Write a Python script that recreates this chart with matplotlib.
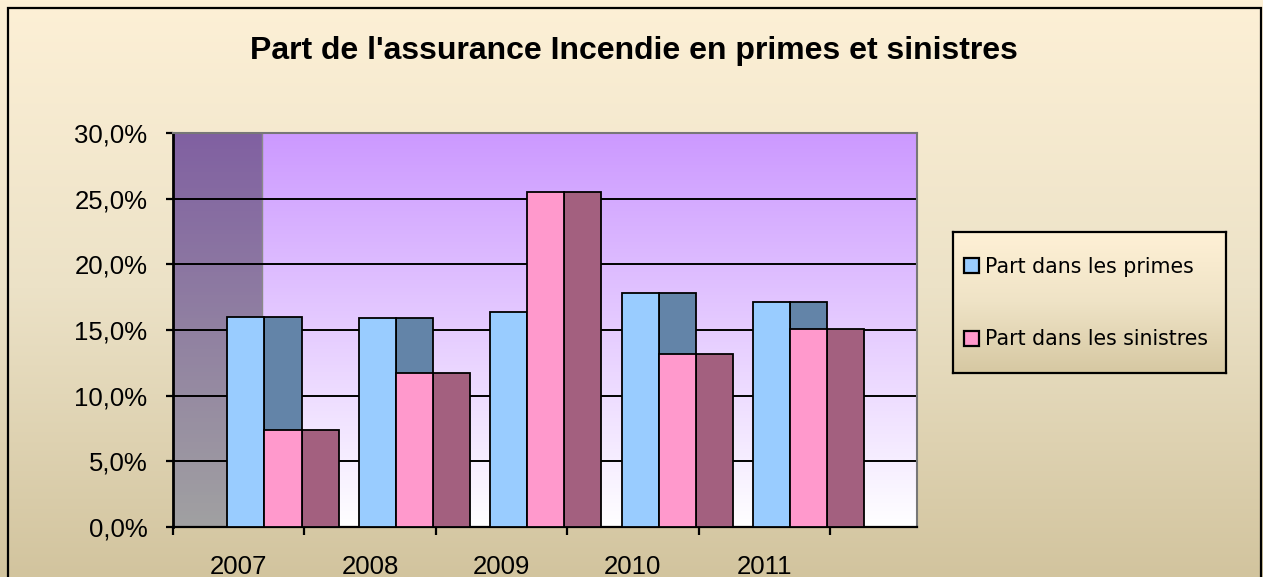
import numpy as np
import matplotlib
matplotlib.use("Agg")
import matplotlib.pyplot as plt
from matplotlib.patches import Rectangle
from matplotlib.colors import LinearSegmentedColormap

# ---- data ----
years = ["2007", "2008", "2009", "2010", "2011"]
part_primes = [16.0, 15.9, 16.35, 17.8, 17.1]
part_sinistres = [7.35, 11.7, 25.5, 13.2, 15.1]
series_labels = ["Part dans les primes", "Part dans les sinistres"]
title = "Part de l'assurance Incendie en primes et sinistres"
yticks = [0, 5, 10, 15, 20, 25, 30]
ytick_labels = ["0,0%", "5,0%", "10,0%", "15,0%", "20,0%", "25,0%", "30,0%"]

W, H = 1263, 577
fig = plt.figure(figsize=(W / 100, H / 100), dpi=100)
plt.rcParams['font.family'] = ['Liberation Sans', 'DejaVu Sans']

def px_axes(x0, y0, x1, y1, **kw):
    return fig.add_axes([x0 / W, 1 - y1 / H, (x1 - x0) / W, (y1 - y0) / H], **kw)

# ---- figure background gradient ----
bg = fig.add_axes([0, 0, 1, 1], zorder=-10)
bg_cmap = LinearSegmentedColormap.from_list("bg", ["#FDF0D6", "#ECE2C7", "#D2C49E"])
grad = np.linspace(0, 1, 256).reshape(-1, 1)
bg.imshow(grad, aspect='auto', cmap=bg_cmap, extent=[0, 1, 0, 1], origin='upper')
bg.set_xlim(0, 1); bg.set_ylim(0, 1)
bg.axis('off')
bg.add_patch(Rectangle((8 / W, -0.02), (1261 - 8) / W, 1.02 - 8 / H,
                       fill=False, edgecolor='black', linewidth=1.6,
                       transform=bg.transAxes))

# ---- main plot ----
cat_px = 131.4
x_left, x_right, y_top, y_bot = 173, 917, 133, 527
ax = px_axes(x_left, y_top, x_right, y_bot)
xmax = (x_right - x_left) / cat_px
ax.set_xlim(0, xmax)
ax.set_ylim(0, 30)

wall_cmap = LinearSegmentedColormap.from_list("wall", ["#CC99FF", "#FFFFFF"])
ax.imshow(grad, aspect='auto', cmap=wall_cmap, extent=[0, xmax, 0, 30],
          origin='upper', zorder=0)
side_w = (262 - x_left) / cat_px
ax.add_patch(Rectangle((0, 0), side_w, 30, facecolor='black', alpha=0.37,
                       edgecolor='none', zorder=0.5))
ax.axvline(side_w, color='#8a8a8a', lw=1.0, zorder=0.6)

for yv in yticks[1:-1]:
    ax.axhline(yv, color='black', lw=1.4, zorder=1)

x = np.arange(len(years))
off = 0.414
w = 0.282
edge = dict(edgecolor='black', linewidth=1.3, align='edge')
b_side = ax.bar(x + off + w, part_primes, w, color='#6384A8', zorder=2, **edge)
b_front = ax.bar(x + off, part_primes, w, color='#99CCFF', zorder=3, **edge)
p_side = ax.bar(x + off + 2 * w, part_sinistres, w, color='#A3607F', zorder=4, **edge)
p_front = ax.bar(x + off + w, part_sinistres, w, color='#FF99CC', zorder=5, **edge)

ax.set_yticks(yticks)
ax.set_yticklabels(ytick_labels)
ax.set_xticks(np.arange(len(years) + 1))
ax.set_xticklabels([])
ax.set_xticks(x + 0.5, minor=True)
ax.set_xticklabels(years, minor=True)
ax.tick_params(axis='y', length=5, width=1.6, pad=13.5, labelsize=18.5)
ax.tick_params(axis='x', which='major', length=5.5, width=1.6, direction='out')
ax.tick_params(axis='x', which='minor', length=0, pad=20.5, labelsize=18.5)
ax.spines['left'].set_linewidth(2.0)
ax.spines['left'].set_color('black')
ax.spines['bottom'].set_linewidth(1.6)
ax.spines['bottom'].set_color('black')
for s in ('top', 'right'):
    ax.spines[s].set_color('#777777')
    ax.spines[s].set_linewidth(1.5)

fig.text(634 / W, 1 - 59.5 / H, title, ha='center', va='baseline',
         fontsize=23, fontweight='bold')

# ---- legend ----
lax = px_axes(953, 232, 1226, 373, zorder=5)
leg_cmap = LinearSegmentedColormap.from_list("leg", ["#FFF1D6", "#EFE3C6", "#D6C8A2"])
lax.imshow(grad, aspect='auto', cmap=leg_cmap, extent=[0, 1, 0, 1], origin='upper')
lax.set_xlim(0, 1); lax.set_ylim(0, 1)
lax.set_xticks([]); lax.set_yticks([])
for s in lax.spines.values():
    s.set_linewidth(1.6)
    s.set_color('black')
leg = lax.legend([b_front, p_front], series_labels, loc='upper left',
                 bbox_to_anchor=(964 / W, 1 - 257 / H), bbox_transform=fig.transFigure,
                 frameon=False, borderpad=0, borderaxespad=0,
                 handlelength=0.73, handleheight=0.73, handletextpad=0.3,
                 labelspacing=2.55, prop={'family': 'DejaVu Sans', 'size': 14.8})
for h in leg.legend_handles:
    h.set_linewidth(1.6)

fig.savefig("out.png", dpi=100)
